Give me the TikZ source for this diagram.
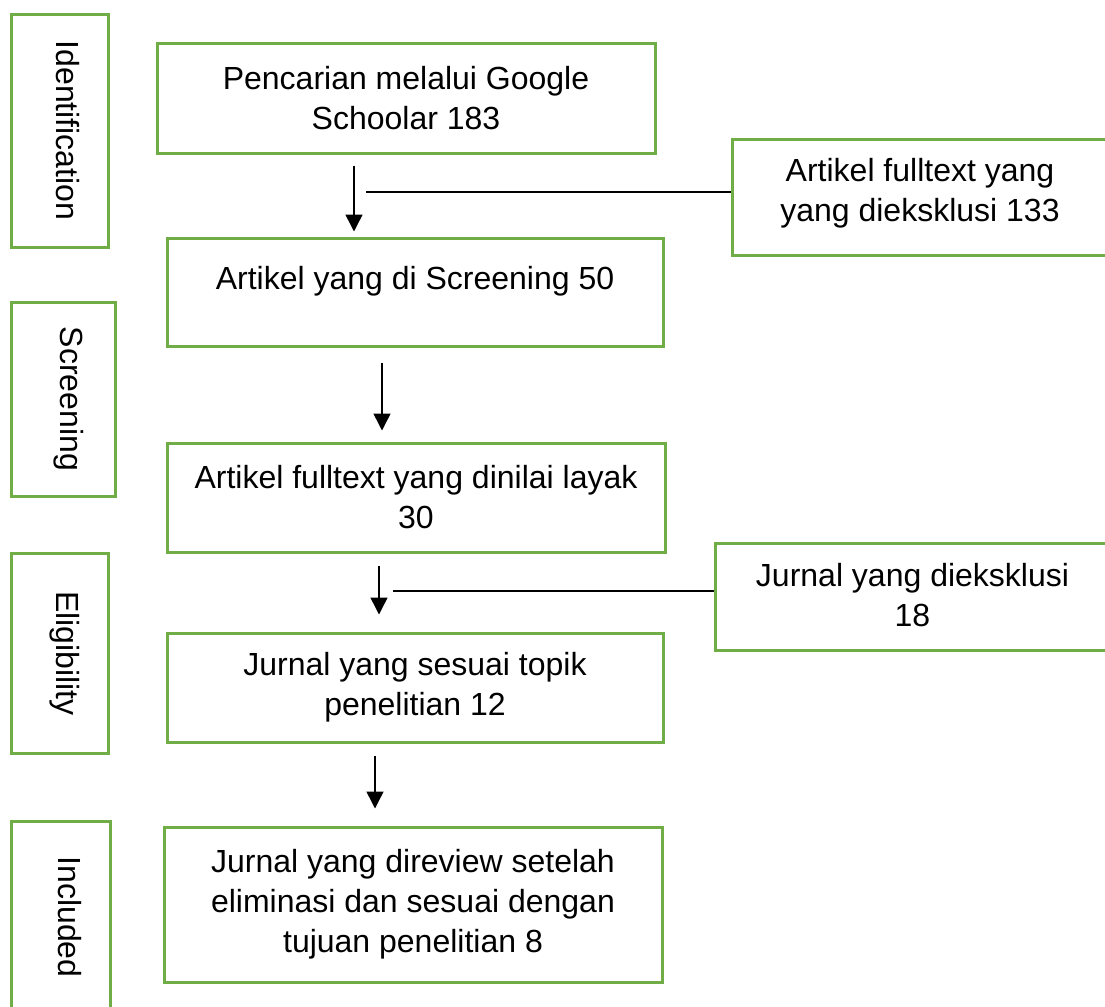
\documentclass[tikz,border=0pt]{standalone}
\usepackage{fontspec}
\setmainfont{Liberation Sans}
\usetikzlibrary{arrows.meta,calc}
\definecolor{grn}{HTML}{70AD47}
\begin{document}
\begin{tikzpicture}[x=0.5pt,y=-0.5pt,
  box/.style={draw=grn,line width=1.5pt,inner sep=0pt,align=center,font=\fontsize{16}{20}\selectfont},
  sidebox/.style={draw=grn,line width=1.5pt,inner sep=0pt},
  sidetext/.style={rotate=-90,anchor=base,inner sep=0pt,font=\fontsize{16}{20}\selectfont},
  plaintext/.style={inner sep=0pt,anchor=base,align=center,font=\fontsize{16}{20}\selectfont},
  arr/.style={line width=0.75pt,-{Triangle[width=8.5pt,length=8.5pt]}},
  link/.style={line width=0.75pt}]
\useasboundingbox (0,0) rectangle (1105,1007);
\clip (0,0) rectangle (1105,1007);

% side (phase) boxes
\node[sidebox,minimum width=48.5pt,minimum height=116.5pt] (s1) at (59.5,130.5) {};
\node[sidebox,minimum width=52pt,minimum height=97pt] (s2) at (63,399) {};
\node[sidebox,minimum width=48.5pt,minimum height=100pt] (s3) at (59.5,653) {};
\node[sidebox,minimum width=49.5pt,minimum height=109.5pt] (s4) at (60.5,930.5) {};
\node[sidetext] (l1) at (56,130.5) {Identification};
\node[sidetext] (l2) at (61,399) {Screening};
\node[sidetext] (l3) at (56,653.5) {Eligibility};
\node[sidetext] (l4) at (58,917) {Included};

% main boxes
\node[box,minimum width=249pt,minimum height=55pt] (b1) at (406,98) {Pencarian melalui Google\\Schoolar 183};
\node[box,minimum width=248pt,minimum height=54pt] (b2) at (415,292) {};
\node[plaintext] (t2) at (415,289) {Artikel yang di Screening 50};
\node[box,minimum width=249pt,minimum height=54.5pt] (b3) at (416,497.5) {Artikel fulltext yang dinilai layak\\30};
\node[box,minimum width=248pt,minimum height=54.5pt] (b4) at (415,687.5) {Jurnal yang sesuai topik\\penelitian 12};
\node[box,minimum width=249pt,minimum height=77.5pt] (b5) at (413,904.5) {Jurnal yang direview setelah\\eliminasi dan sesuai dengan\\tujuan penelitian 8};

% exclusion boxes
\node[box,minimum width=188pt,minimum height=58pt] (r1) at (920,197) {};
\node[box,draw=none] (rt1) at (920,193) {Artikel fulltext yang\\yang dieksklusi 133};
\node[box,minimum width=197.5pt,minimum height=53.5pt] (r2) at (912.5,596.5) {};
\node[box,draw=none] (rt2) at (912.5,595) {Jurnal yang dieksklusi\\18};

% connectors
\coordinate (ax1) at (354,0);
\coordinate (ax2) at (382,0);
\coordinate (ax3) at (379,0);
\coordinate (ax4) at (375,0);
\draw[arr] ([yshift=-5.5pt]b1.south -| ax1) -- ([yshift=2.5pt]b2.north -| ax1);
\draw[arr] ([yshift=-7.5pt]b2.south -| ax2) -- ([yshift=5.5pt]b3.north -| ax2);
\draw[arr] ([yshift=-6pt]b3.south -| ax3) -- ([yshift=8.5pt]b4.north -| ax3);
\draw[arr] ([yshift=-6pt]b4.south -| ax4) -- ([yshift=8.5pt]b5.north -| ax4);
\coordinate (h1) at (366,192);
\coordinate (h2) at (393,591);
\draw[link] (h1) -- (h1 -| r1.west);
\draw[link] (h2) -- (h2 -| r2.west);
\end{tikzpicture}
\end{document}
